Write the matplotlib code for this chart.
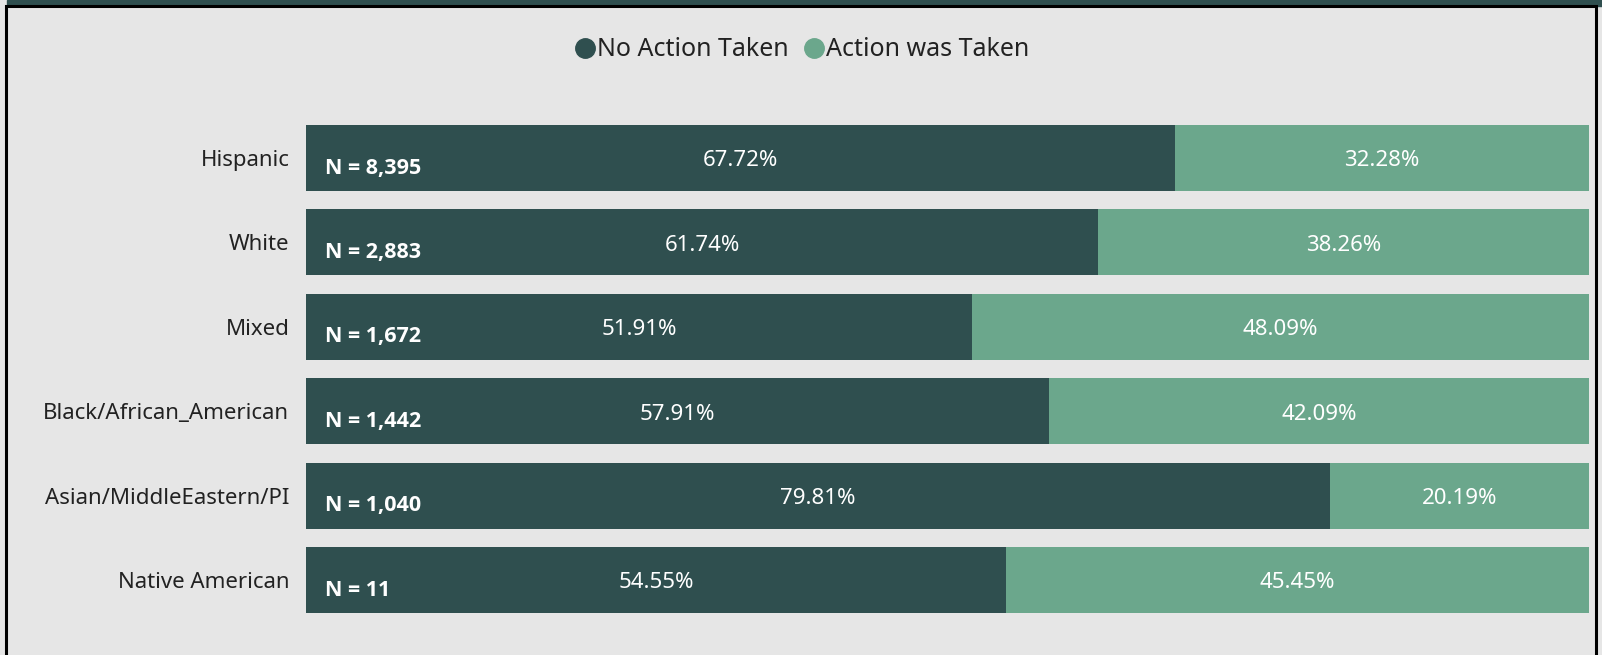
import matplotlib.pyplot as plt
from matplotlib.lines import Line2D
from matplotlib.patches import Rectangle

# data
categories = ["Hispanic", "White", "Mixed", "Black/African_American",
              "Asian/MiddleEastern/PI", "Native American"]
no_action = [67.72, 61.74, 51.91, 57.91, 79.81, 54.55]
action_taken = [32.28, 38.26, 48.09, 42.09, 20.19, 45.45]
n_counts = [8395, 2883, 1672, 1442, 1040, 11]

DARK = "#2f4f4f"
LIGHT = "#6ba78c"
BG = "#e6e6e6"

plt.rcParams["font.family"] = ["Noto Sans", "DejaVu Sans"]

fig = plt.figure(figsize=(16.02, 6.55), dpi=100)
fig.patch.set_facecolor(BG)

# top band and frame
fig.patches.append(Rectangle((7 / 1602, 1 - 6 / 655), 1, 6 / 655,
                             transform=fig.transFigure, color=DARK, zorder=0))
fig.patches.append(Rectangle((6 / 1602, -0.01), (1590 / 1602), 1 - 6 / 655 + 0.01,
                             transform=fig.transFigure, fill=False,
                             edgecolor="black", linewidth=2.2, zorder=1))

ax = fig.add_axes([306 / 1602, 42 / 655, 1283 / 1602, 488 / 655])
ax.set_facecolor(BG)

h = 0.782
ypos = list(range(len(categories)))
ax.barh(ypos, no_action, height=h, color=DARK)
ax.barh(ypos, action_taken, left=no_action, height=h, color=LIGHT)

for y, a, b, n in zip(ypos, no_action, action_taken, n_counts):
    ax.text(a / 2, y + 0.035, f"{a:.2f}%", color="white", fontsize=16,
            ha="center", va="center")
    ax.text(a + b / 2, y + 0.035, f"{b:.2f}%", color="white", fontsize=16,
            ha="center", va="center")
    ax.text(1.5, y + 0.12, f"N = {n:,}", color="white", fontsize=15.5,
            family=["Open Sans", "DejaVu Sans"], fontweight="bold",
            ha="left", va="center")

ax.set_xlim(0, 100)
ax.set_ylim(len(categories) - 1 + h / 2, -h / 2)
ax.set_yticks(ypos)
ax.set_yticklabels(categories, fontsize=16, color="#222222")
ax.tick_params(axis="y", length=0, pad=12)
ax.set_xticks([])
for s in ax.spines.values():
    s.set_visible(False)

handles = [Line2D([], [], marker="o", linestyle="none", markersize=14,
                  markerfacecolor=DARK, markeredgecolor=DARK),
           Line2D([], [], marker="o", linestyle="none", markersize=14,
                  markerfacecolor=LIGHT, markeredgecolor=LIGHT)]
fig.legend(handles, ["No Action Taken", "Action was Taken"], loc="center",
           bbox_to_anchor=(0.5, 1 - 50 / 655), ncol=2, frameon=False,
           fontsize=18, handletextpad=0.0, columnspacing=0.5,
           handlelength=1.0, labelcolor="#222222")

fig.savefig("out.png", dpi=100, facecolor=BG)
